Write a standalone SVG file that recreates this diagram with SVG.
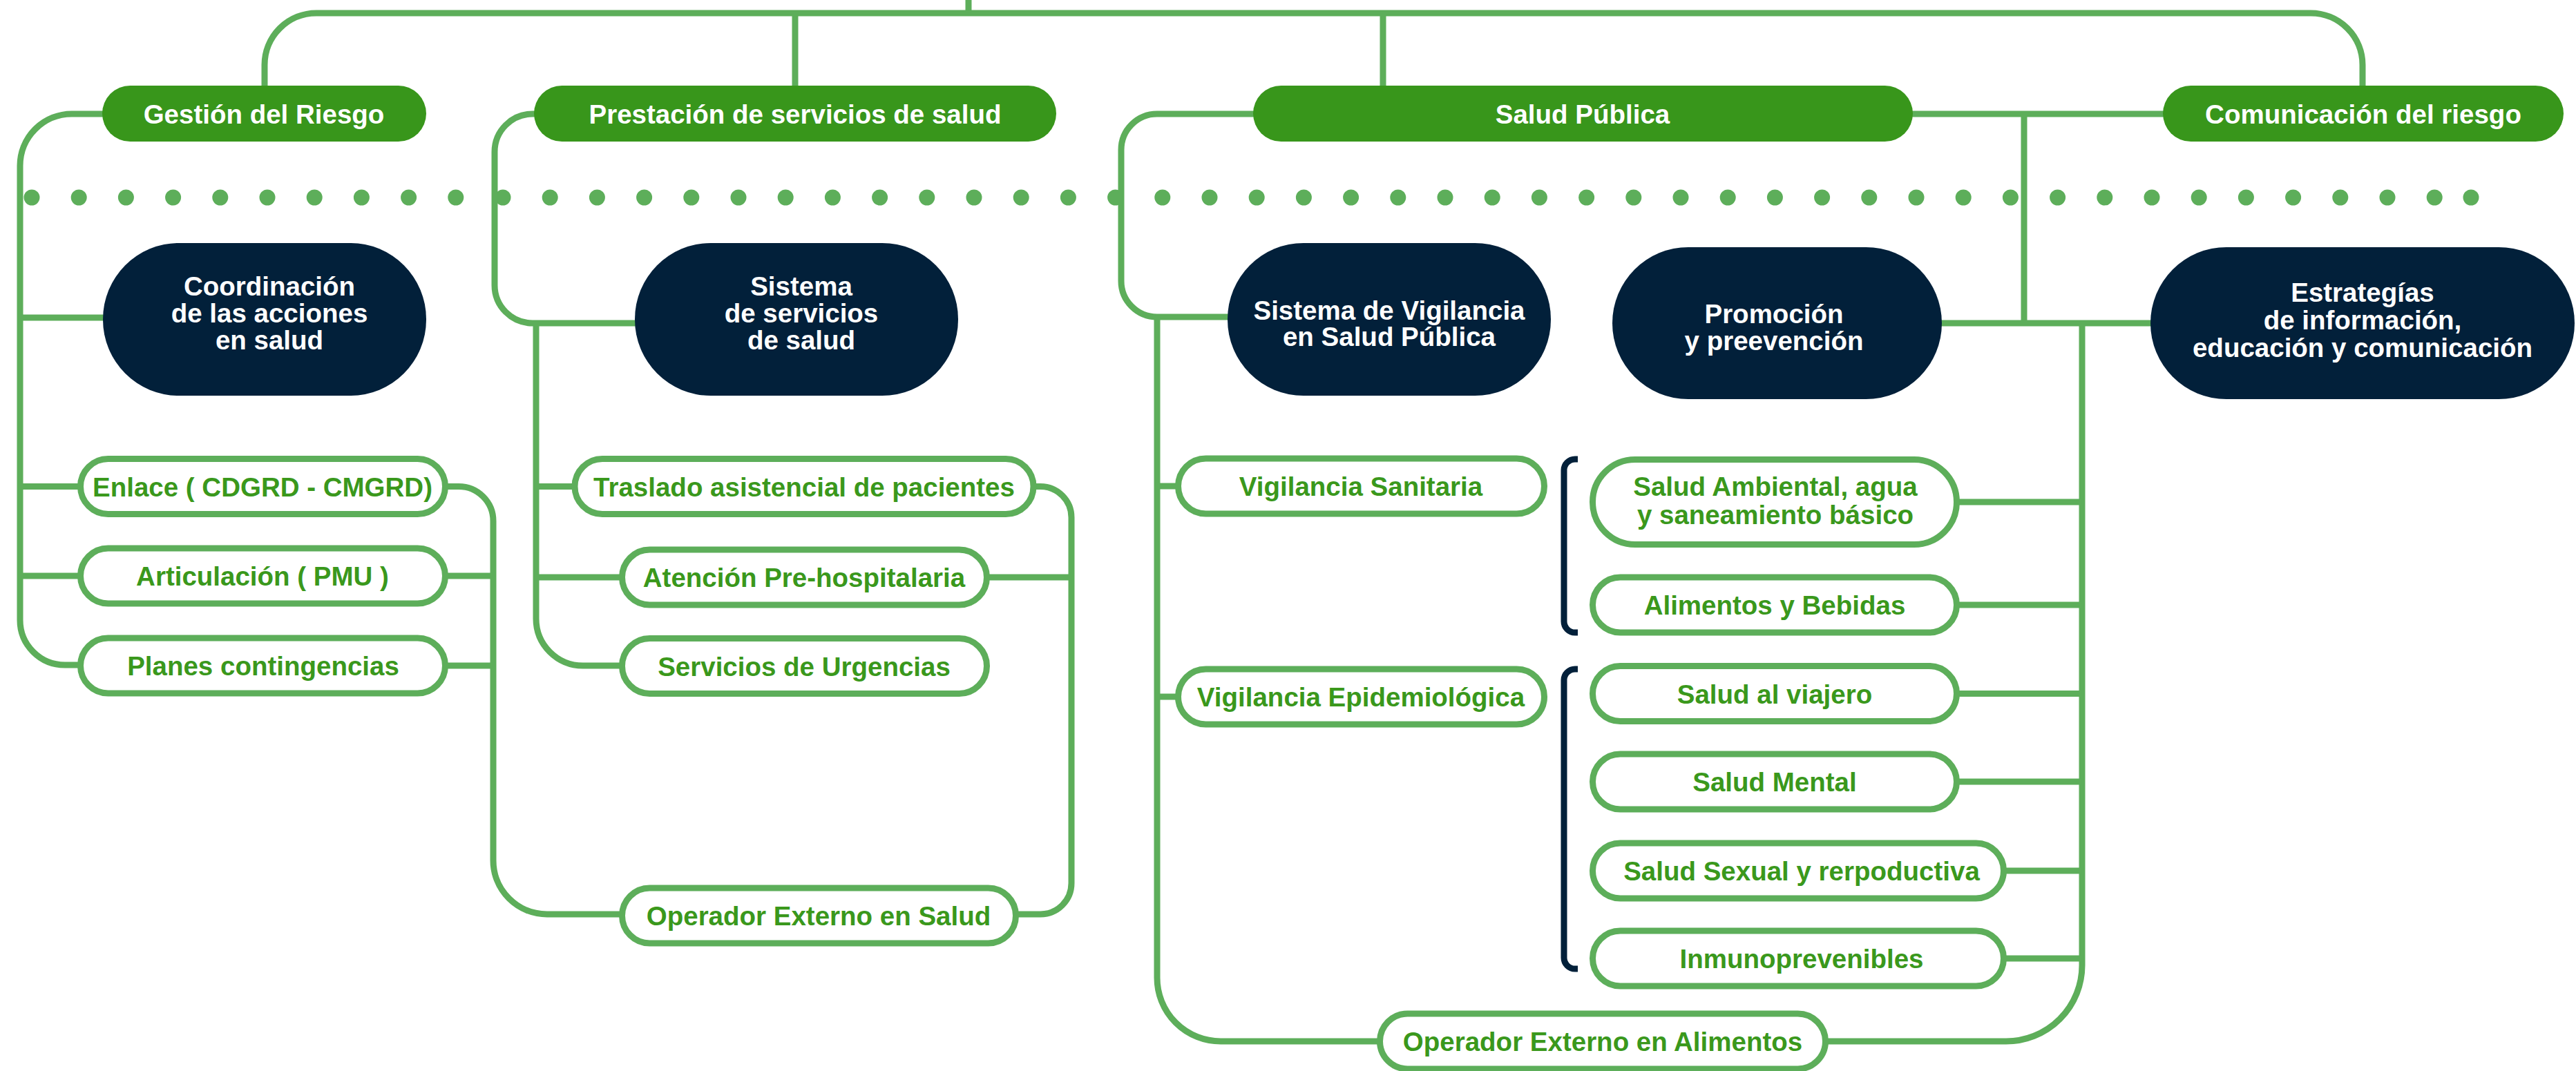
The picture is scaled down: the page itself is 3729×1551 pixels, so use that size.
<svg xmlns="http://www.w3.org/2000/svg" width="3729" height="1551" viewBox="0 0 3729 1551">
<style>
.ln{fill:none;stroke:#5DAE5A;stroke-width:9}
.hdr{fill:#38961B}
.dk{fill:#02203A}
.ch{fill:#FFFFFF;stroke:#5DAE5A;stroke-width:9}
.br{fill:none;stroke:#02203A;stroke-width:9;stroke-linecap:butt}
text{font-family:"Liberation Sans",Arial,sans-serif;font-weight:bold;font-size:38.5px;text-anchor:middle}
.tw{fill:#FFFFFF}
.tg{fill:#3A981C}
</style>
<rect width="3729" height="1551" fill="#FFFFFF"/>
<g id="dots">
<line x1="46" y1="286" x2="3525" y2="286" stroke="#5DAE5A" stroke-width="23" stroke-linecap="round" stroke-dasharray="0 68.2"/>
<circle cx="3577" cy="286" r="11.5" fill="#5DAE5A"/>
</g>
<g id="connectors">
<path class="ln" d="M1402,0 V19"/>
<path class="ln" d="M383,124 V94 A75,75 0 0 1 458,19 H3345 A75,75 0 0 1 3420,94 V124"/>
<path class="ln" d="M1151,19 V124 M2002,19 V124"/>
<path class="ln" d="M150,165 H104 A75,75 0 0 0 29,240 V898 A65,65 0 0 0 94,963 H114"/>
<path class="ln" d="M29,460 H150 M29,704.5 H114 M29,834 H114"/>
<path class="ln" d="M647,704.5 H664 A50,50 0 0 1 714,754.5 V1246 A78,78 0 0 0 792,1324 H898"/>
<path class="ln" d="M647,834 H714 M647,964 H714"/>
<path class="ln" d="M775,165 H771 A55,55 0 0 0 716,220 V413 A55,55 0 0 0 771,468 H921"/>
<path class="ln" d="M776,468 V896 A68,68 0 0 0 844,964 H898"/>
<path class="ln" d="M776,704.5 H830 M776,836 H898"/>
<path class="ln" d="M1498,704.5 H1506 A45,45 0 0 1 1551,749.5 V1279 A45,45 0 0 1 1506,1324 H1473"/>
<path class="ln" d="M1431,836 H1551"/>
<path class="ln" d="M1816,165 H1675 A52,52 0 0 0 1623,217 V407 A52,52 0 0 0 1675,459 H1779"/>
<path class="ln" d="M1675,459 V1416 A92,92 0 0 0 1767,1508 H1995"/>
<path class="ln" d="M1675,704 H1703 M1675,1009 H1703"/>
<path class="ln" d="M2767,165 H3133 M2930,165 V468 M2809,468 H3115"/>
<path class="ln" d="M3014,468 V1398 A110,110 0 0 1 2904,1508 H2645"/>
<path class="ln" d="M2835,727 H3014 M2835,876 H3014 M2835,1004.5 H3014 M2835,1132 H3014 M2903,1261 H3014 M2903,1388 H3014"/>
<path class="br" d="M2284,665 h-4 a16,16 0 0 0 -16,16 V900 a16,16 0 0 0 16,16 h4"/>
<path class="br" d="M2284,969 h-4 a16,16 0 0 0 -16,16 V1387 a16,16 0 0 0 16,16 h4"/>
</g>
<g id="n-gestion"><rect class="hdr" x="148" y="124" width="469" height="81" rx="40.5"/><text class="tw" x="382" y="179">Gestión del Riesgo</text></g>
<g id="n-prestacion"><rect class="hdr" x="773" y="124" width="756" height="81" rx="40.5"/><text class="tw" x="1151" y="179">Prestación de servicios de salud</text></g>
<g id="n-saludpublica"><rect class="hdr" x="1814" y="124" width="955" height="81" rx="40.5"/><text class="tw" x="2291" y="179">Salud Pública</text></g>
<g id="n-comunicacion"><rect class="hdr" x="3131" y="124" width="580" height="81" rx="40.5"/><text class="tw" x="3421" y="179">Comunicación del riesgo</text></g>
<g id="n-coordinacion"><rect class="dk" x="149" y="352" width="468" height="221" rx="110"/><text class="tw"><tspan x="390" y="428">Coordinación</tspan><tspan x="390" y="467">de las acciones</tspan><tspan x="390" y="506">en salud</tspan></text></g>
<g id="n-sistemaservicios"><rect class="dk" x="919" y="352" width="468" height="221" rx="110"/><text class="tw"><tspan x="1160" y="428">Sistema</tspan><tspan x="1160" y="467">de servicios</tspan><tspan x="1160" y="506">de salud</tspan></text></g>
<g id="n-sivigila"><rect class="dk" x="1777" y="352" width="468" height="221" rx="110"/><text class="tw"><tspan x="2011" y="463">Sistema de Vigilancia</tspan><tspan x="2011" y="501">en Salud Pública</tspan></text></g>
<g id="n-promocion"><rect class="dk" x="2334" y="358" width="477" height="220" rx="110"/><text class="tw"><tspan x="2568" y="468">Promoción</tspan><tspan x="2568" y="507">y preevención</tspan></text></g>
<g id="n-estrategias"><rect class="dk" x="3113" y="358" width="614" height="220" rx="110"/><text class="tw"><tspan x="3420" y="437">Estrategías</tspan><tspan x="3420" y="477">de información,</tspan><tspan x="3420" y="517">educación y comunicación</tspan></text></g>
<g id="n-enlace"><rect class="ch" x="116.5" y="664.5" width="528" height="80" rx="40"/><text class="tg" x="380" y="718.5">Enlace ( CDGRD - CMGRD)</text></g>
<g id="n-articulacion"><rect class="ch" x="116.5" y="794" width="528" height="80" rx="40"/><text class="tg" x="380" y="848">Articulación ( PMU )</text></g>
<g id="n-planes"><rect class="ch" x="116.5" y="924" width="528" height="80" rx="40"/><text class="tg" x="381" y="978">Planes contingencias</text></g>
<g id="n-traslado"><rect class="ch" x="832" y="664.5" width="664" height="80" rx="40"/><text class="tg" x="1164" y="718.5">Traslado asistencial de pacientes</text></g>
<g id="n-atencion"><rect class="ch" x="900.5" y="796" width="528" height="80" rx="40"/><text class="tg" x="1164" y="850">Atención Pre-hospitalaria</text></g>
<g id="n-servicios"><rect class="ch" x="900.5" y="924.5" width="528" height="80" rx="40"/><text class="tg" x="1164" y="978.5">Servicios de Urgencias</text></g>
<g id="n-opsalud"><rect class="ch" x="900.5" y="1286" width="570" height="80" rx="40"/><text class="tg" x="1185" y="1340">Operador Externo en Salud</text></g>
<g id="n-vsanitaria"><rect class="ch" x="1705.5" y="664" width="530" height="80" rx="40"/><text class="tg" x="1970" y="718">Vigilancia Sanitaria</text></g>
<g id="n-vepidemio"><rect class="ch" x="1705.5" y="969" width="530" height="80" rx="40"/><text class="tg" x="1970" y="1023">Vigilancia Epidemiológica</text></g>
<g id="n-ambiental"><rect class="ch" x="2305.5" y="665.5" width="527" height="123" rx="61.5"/><text class="tg"><tspan x="2570" y="718">Salud Ambiental, agua</tspan><tspan x="2570" y="759">y saneamiento básico</tspan></text></g>
<g id="n-alimentos"><rect class="ch" x="2305.5" y="836" width="527" height="80" rx="40"/><text class="tg" x="2569" y="890">Alimentos y Bebidas</text></g>
<g id="n-viajero"><rect class="ch" x="2305.5" y="964.5" width="527" height="80" rx="40"/><text class="tg" x="2569" y="1018.5">Salud al viajero</text></g>
<g id="n-mental"><rect class="ch" x="2305.5" y="1092" width="527" height="80" rx="40"/><text class="tg" x="2569" y="1146">Salud Mental</text></g>
<g id="n-sexual"><rect class="ch" x="2305.5" y="1221" width="595" height="80" rx="40"/><text class="tg" x="2608" y="1275">Salud Sexual y rerpoductiva</text></g>
<g id="n-inmuno"><rect class="ch" x="2305.5" y="1348" width="595" height="80" rx="40"/><text class="tg" x="2608" y="1402">Inmunoprevenibles</text></g>
<g id="n-opalimentos"><rect class="ch" x="1997.5" y="1468" width="645" height="80" rx="40"/><text class="tg" x="2320" y="1522">Operador Externo en Alimentos</text></g>
</svg>
